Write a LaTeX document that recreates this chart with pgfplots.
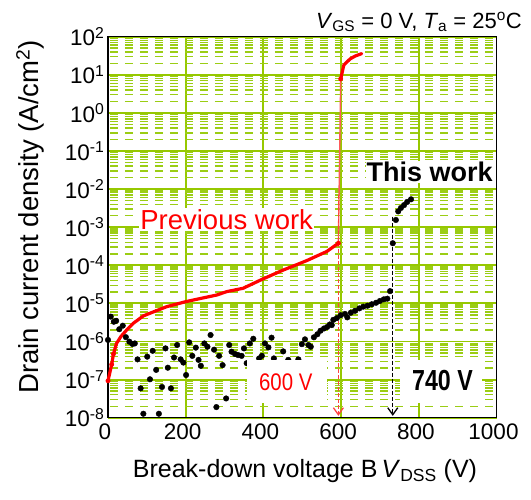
\documentclass[border=0pt]{standalone}
\usepackage{fontspec}
\setmainfont{Liberation Sans}
\usepackage{graphicx}
\usepackage{pgfplots}
\pgfplotsset{compat=1.18}
\usetikzlibrary{arrows.meta}
\definecolor{gmaj}{RGB}{150,200,0}
\definecolor{gmin}{RGB}{155,205,20}
\begin{document}
\begin{tikzpicture}
\useasboundingbox (-108pt,-81.3pt) rectangle (423pt,417.7pt);
\begin{axis}[
  at={(0pt,0pt)}, anchor=south west,
  width=388.5pt, height=381pt, scale only axis,
  xmin=0, xmax=1000, ymode=log, ymin=1e-8, ymax=1e2,
  xtick={0,200,400,600,800,1000},
  xticklabels={0,200,400,600,800,1000},
  ytick={1e-8,1e-7,1e-6,1e-5,1e-4,1e-3,1e-2,1e-1,1,10,100},
  yticklabels={10\textsuperscript{-8},10\textsuperscript{-7},10\textsuperscript{-6},10\textsuperscript{-5},10\textsuperscript{-4},10\textsuperscript{-3},10\textsuperscript{-2},10\textsuperscript{-1},10\textsuperscript{0},10\textsuperscript{1},10\textsuperscript{2}},
  minor ytick={2e-8,3e-8,4e-8,5e-8,6e-8,7e-8,8e-8,9e-8,
    2e-7,3e-7,4e-7,5e-7,6e-7,7e-7,8e-7,9e-7,
    2e-6,3e-6,4e-6,5e-6,6e-6,7e-6,8e-6,9e-6,
    2e-5,3e-5,4e-5,5e-5,6e-5,7e-5,8e-5,9e-5,
    2e-4,3e-4,4e-4,5e-4,6e-4,7e-4,8e-4,9e-4,
    2e-3,3e-3,4e-3,5e-3,6e-3,7e-3,8e-3,9e-3,
    2e-2,3e-2,4e-2,5e-2,6e-2,7e-2,8e-2,9e-2,
    2e-1,3e-1,4e-1,5e-1,6e-1,7e-1,8e-1,9e-1,
    2,3,4,5,6,7,8,9,
    20,30,40,50,60,70,80,90},
  xmajorgrids, ymajorgrids, yminorgrids,
  every axis grid/.style={draw=gmaj},
  major grid style={draw=gmaj, line width=1.9pt},
  minor grid style={draw=gmin, line width=1.4pt, dash pattern=on 8pt off 7pt, dash phase=13pt},
  major tick length=0pt, minor tick length=0pt,
  axis line style={black, line width=1.3pt},
  tick label style={font=\fontsize{22.5}{26}\selectfont},
  xticklabel style={yshift=-3pt, xshift=-3pt},
  clip=false,
]
% Previous work
\addplot[red, line width=3.2pt, line join=round, line cap=round] coordinates {
 (0,9.3e-8) (9.5,2.5e-7) (14,4.7e-7) (22,8.9e-7) (33,1.34e-6) (48,2.0e-6)
 (65,3.0e-6) (91,4.7e-6) (117,6.0e-6) (151,8.2e-6) (200,1.11e-5) (240,1.36e-5)
 (280,1.66e-5) (305,2.03e-5) (348,2.5e-5) (397,4.3e-5) (451,7.5e-5)
 (511,1.32e-4) (563,2.3e-4) (593,3.8e-4)};
\addplot[red, only marks, mark=*, mark size=2.2pt] coordinates {(0,9.3e-8) (9.5,2.5e-7) (14,4.7e-7) (593,3.8e-4)};
\addplot[red!65, line width=1.4pt] coordinates {(593,3.8e-4) (599,7.8)};
\addplot[red, line width=3.2pt, line join=round, line cap=round] coordinates {
 (599,7.8) (607,18) (623,26) (636,31) (653,36)};
\addplot[red, only marks, mark=*, mark size=2.2pt] coordinates {(599,7.8)};
\addplot[red!75, line width=1.3pt, dash pattern=on 4pt off 2pt, -{Straight Barb[length=7pt,width=10pt]}] coordinates {(593,7e-3) (593,1.12e-8)};
% This work
\addplot[black, line width=1.3pt, dash pattern=on 4pt off 2pt, -{Straight Barb[length=7pt,width=10pt]}] coordinates {(733,1.9e-3) (733,1.12e-8)};
\addplot[black, only marks, mark=*, mark size=2.8pt] coordinates {
 (0,1.1e-6) (7,4.5e-6) (15,3.3e-6) (21,3.5e-6) (29,2.1e-6) (38,2.6e-6)
 (46,1.3e-6) (55,9.9e-7) (63,8.6e-7) (69,8.9e-7) (76,3.4e-7) (84,5.9e-8)
 (91,1.27e-8) (101,4.0e-7) (108,1.02e-7) (115,5.7e-7) (124,1.8e-7) (131,1.27e-8)
 (139,6.4e-8) (148,6.6e-7) (154,2.05e-7) (162,5.9e-8) (170,3.8e-7) (178,8.1e-7)
 (187,3.4e-7) (194,2.8e-7) (201,1.32e-7) (209,9.5e-7) (217,4.2e-7) (226,6.9e-7)
 (233,3.3e-7) (239,2.3e-7) (248,8.9e-7) (256,7.3e-7) (264,1.48e-6) (273,6.1e-7)
 (279,1.9e-8) (286,4.2e-7) (295,2.4e-7) (304,3.2e-8) (312,8.1e-7) (318,5.4e-7)
 (327,4.7e-7) (335,4.4e-7) (344,4.2e-7) (350,6.6e-7) (357,2.7e-7) (365,8.9e-7)
 (374,1.18e-6) (389,3.6e-7) (396,4.2e-7) (404,8.9e-7) (413,7.0e-7) (421,1.26e-6)
 (427,3.6e-7) (451,5.5e-7) (464,3.3e-7) (490,3.4e-7) (499,8.5e-7) (507,1.14e-6)
 (516,8.1e-7) (522,7.3e-7) (530,1.29e-6) (539,1.55e-6) (547,1.92e-6) (556,2.2e-6)
 (564,2.4e-6) (571,2.8e-6) (576,2.7e-6) (580,3.7e-6) (589,4.1e-6) (599,4.9e-6)
 (610,5.3e-6) (616,4.3e-6) (625,5.7e-6) (636,6.4e-6) (647,7.4e-6) (657,8.2e-6)
 (668,8.7e-6) (679,9.5e-6) (690,1.04e-5) (700,1.16e-5) (710,1.28e-5) (719,1.33e-5)
 (726,2.1e-5) (733,3.8e-4) (741,1.55e-3) (747,2.6e-3) (754,3.2e-3) (762,3.8e-3)
 (770,4.6e-3) (780,5.4e-3)};
\end{axis}
% white label boxes
\fill[white] (139pt,14.7pt) rectangle (219pt,57.7pt);
\fill[white] (292pt,14.7pt) rectangle (374pt,57.7pt);
\node[anchor=base, red, inner sep=0pt] at (177.8pt,27.7pt)
  {\scalebox{0.85}[1]{\fontsize{24}{27}\selectfont 600 V}};
\node[anchor=base, black, inner sep=0pt] at (334.5pt,26.7pt)
  {\scalebox{0.8}[1]{\fontsize{29}{33}\selectfont\bfseries 740 V}};
\node[anchor=base, red, fill=white, inner sep=1pt, font=\fontsize{27.5}{31}\selectfont] at (118.7pt,188.4pt) {Previous work};
\node[anchor=base, black, fill=white, inner sep=1pt, font=\fontsize{27}{31}\selectfont\bfseries] at (321.7pt,236pt) {This work};
% header
\node[anchor=base east, inner sep=0pt, font=\fontsize{22}{26}\selectfont] at (414pt,389.4pt)
  {\textit{V}\textsubscript{GS} = 0 V, \textit{T}\textsubscript{a} = 25\textsuperscript{o}C};
% axis labels
\node[rotate=90, anchor=center, inner sep=0pt, font=\fontsize{27.5}{31}\selectfont] at (-77.7pt,200.7pt)
  {Drain current density (A/cm\textsuperscript{2})};
\node[anchor=base, inner sep=0pt, font=\fontsize{25}{29}\selectfont] at (197pt,-59.6pt)
  {Break-down voltage B\,\textit{V}\textsubscript{DSS} (V)};
\end{tikzpicture}
\end{document}
